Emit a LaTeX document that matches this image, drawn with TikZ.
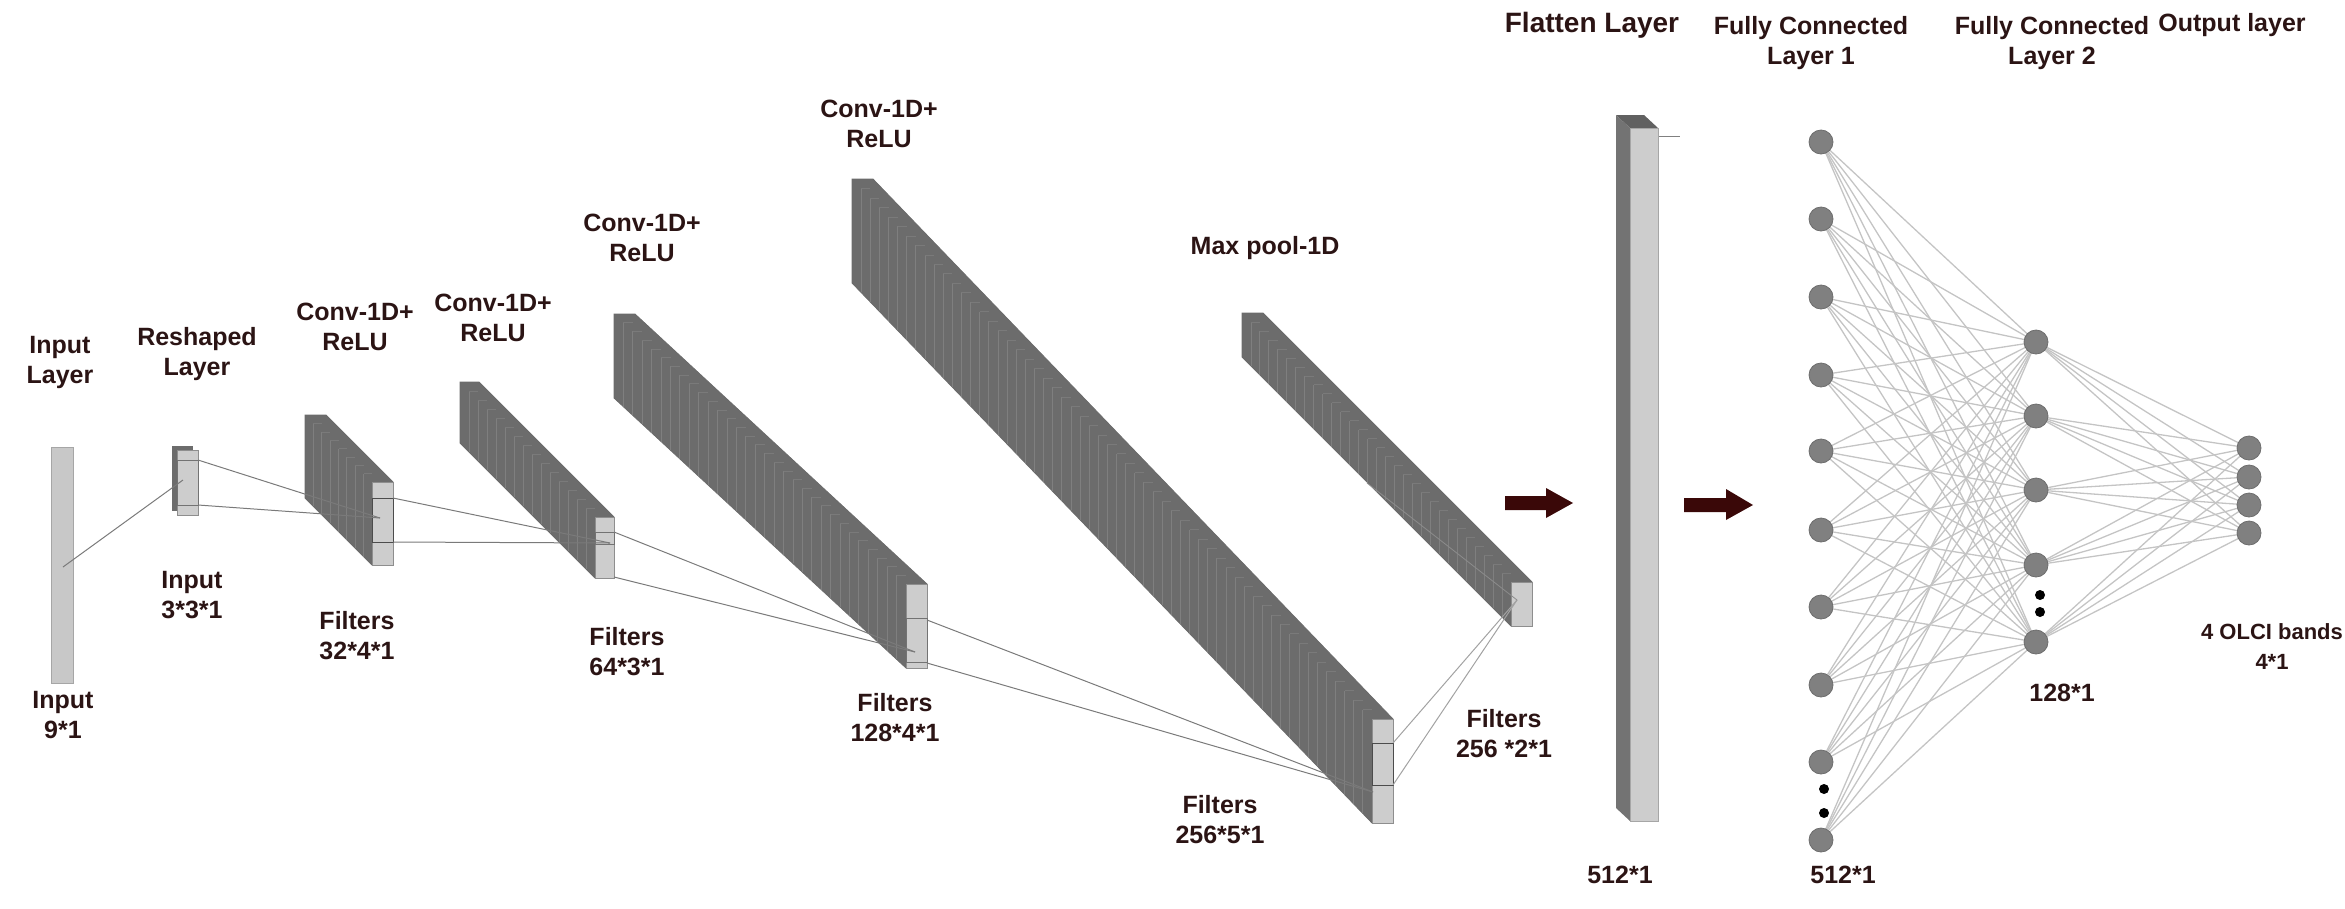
\documentclass[tikz,border=0pt]{standalone}
\usepackage{fontspec}
\setmainfont{Liberation Sans}
\pgfdeclarelayer{bg}
\pgfsetlayers{bg,main}
\definecolor{txt}{HTML}{2B1414}
\definecolor{slicec}{HTML}{6C6C6C}
\definecolor{sliceedge}{HTML}{7F7F7F}
\definecolor{facec}{HTML}{CDCDCD}
\definecolor{faceedge}{HTML}{8E8E8E}
\definecolor{conn}{HTML}{7A7A7A}
\definecolor{fcline}{HTML}{C4C4C4}
\definecolor{neuron}{HTML}{808080}
\definecolor{arrowc}{HTML}{3A0808}
\tikzset{
  lbl/.style={text=txt, font=\bfseries\fontsize{25}{30}\selectfont, align=center, inner sep=0pt},
  neuronnode/.style={circle, fill=neuron, draw=neuron!85!black, line width=0.8pt, minimum size=24pt, inner sep=0pt},
  dotnode/.style={circle, fill=black, minimum size=10pt, inner sep=0pt},
  fcedge/.style={draw=fcline, line width=1.3pt},
  convedge/.style={draw=conn, line width=1pt},
  frontface/.style={fill=facec, draw=faceedge, line width=1pt},
  windowbox/.style={draw=black!70, line width=1pt},
  fatarrow/.style={fill=arrowc, draw=none},
}
% x0,y0 (back top-left), x1,y1 (front top-left), h, w, m (= slices-1)
\newcommand\convblock[7]{%
  \fill[slicec, draw=black!58, line width=0.8pt]
    (#1,#2) -- ++(#6,0) -- (#3+#6,#4) -- ++(0,#5) -- (#3,#4+#5) -- (#1,#2+#5) -- cycle;
  \foreach \i in {1,...,#7}{%
    \pgfmathsetmacro\bx{#1+(#3-#1)/(#7+1)*\i}%
    \pgfmathsetmacro\by{#2+(#4-#2)/(#7+1)*\i}%
    \pgfmathsetmacro\dx{(#3-#1)/(#7+1)}%
    \draw[sliceedge, line width=0.9pt] (\bx,\by) -- ++(0,#5);
    \draw[black!52, line width=0.5pt] (\bx,\by) -- ++(\dx,0);
  }%
  \draw[frontface] (#3,#4) rectangle ++(#6,#5);
}
\begin{document}
\begin{tikzpicture}[x=1pt, y=-1pt]
\useasboundingbox (0,0) rectangle (2345,908);

% ---------- input layer ----------
\draw[fill=facec!110!white, draw=black!35, line width=1pt] (51,447) rectangle (73,683);
\coordinate (inA) at (63,567);

% ---------- reshaped layer ----------
\fill[slicec] (172,446) rectangle (193,511);
\draw[frontface] (177,450) rectangle (198,515);
\draw[windowbox, draw=black!55] (177,460) rectangle (198,505);
\coordinate (inB) at (183,480);
\coordinate (rsT) at (198,460);
\coordinate (rsB) at (198,505);

% ---------- conv blocks ----------
\convblock{305}{415}{372}{482}{83}{21}{7}
\convblock{460}{382}{595}{517}{61}{19}{14}
\convblock{614}{314}{906}{584}{84}{21}{30}
\convblock{852}{179}{1372}{719}{104}{21}{56}
\convblock{1242}{313}{1511}{582}{44}{21}{29}

% windows
\draw[windowbox] (372,498) rectangle (393,542);
\draw[windowbox, draw=black!55] (595,532) rectangle (614,544);
\draw[windowbox, draw=black!55] (906,618) rectangle (927,662);
\draw[windowbox] (1372,743) rectangle (1393,785);

\coordinate (c1T) at (393,498);  \coordinate (c1B) at (393,542);
\coordinate (c2T) at (614,532);  \coordinate (c2B) at (614,577);
\coordinate (c3T) at (927,620);  \coordinate (c3B) at (927,663);
\coordinate (c4T) at (1393,743); \coordinate (c4B) at (1393,785);
\coordinate (p1) at (380,518);
\coordinate (p2) at (610,543);
\coordinate (p3) at (915,652);
\coordinate (p4) at (1373,792);
\coordinate (p5) at (1517,600);
\coordinate (mpA) at (1367,483);

% connectors
\draw[convedge] (inA) -- (inB);
\draw[convedge] (rsT) -- (p1);  \draw[convedge] (rsB) -- (p1);
\draw[convedge] (c1T) -- (p2);  \draw[convedge] (c1B) -- (p2);
\draw[convedge] (c2T) -- (p3);  \draw[convedge] (c2B) -- (p3);
\draw[convedge] (c3T) -- (p4);  \draw[convedge] (c3B) -- (p4);
\draw[convedge, draw=conn!70] (c4T) -- (p5);  \draw[convedge, draw=conn!70] (c4B) -- (p5);
\draw[convedge, draw=black!45, line width=0.8pt] (p5) -- (mpA);

% ---------- arrows ----------
\fill[fatarrow] (1505,496) -- (1546,496) -- (1546,488) -- (1573,503) -- (1546,518) -- (1546,510) -- (1505,510) -- cycle;
\fill[fatarrow] (1684,498) -- (1726,498) -- (1726,489) -- (1753,505) -- (1726,520) -- (1726,512) -- (1684,512) -- cycle;

% ---------- flatten layer ----------
\fill[black!62] (1616,115) -- (1644,115) -- (1658,128) -- (1630,128) -- cycle;
\fill[black!55] (1616,115) -- (1630,128) -- (1630,821) -- (1616,808) -- cycle;
\draw[frontface, draw=black!35] (1630,128) rectangle (1658,821);
\coordinate (flT) at (1659,136);
\coordinate (flE) at (1680,136);
\draw[convedge, draw=black!50] (flT) -- (flE);

% ---------- fully connected network ----------
\foreach \y [count=\k] in {142,219,297,375,451,530,607,685,762,840}
  \node[neuronnode] (a\k) at (1821,\y) {};
\foreach \y [count=\k] in {342,416,490,565,642}
  \node[neuronnode] (b\k) at (2036,\y) {};
\foreach \y [count=\k] in {448,477,505,533}
  \node[neuronnode] (o\k) at (2249,\y) {};
\node[dotnode] (da1) at (1824,789) {};
\node[dotnode] (da2) at (1824,813) {};
\node[dotnode] (db1) at (2040,595) {};
\node[dotnode] (db2) at (2040,612) {};

\begin{pgfonlayer}{bg}
\foreach \i in {1,...,10}
  \foreach \j in {1,...,5}
    \draw[fcedge] (a\i.center) -- (b\j.center);
\foreach \i in {1,...,5}
  \foreach \j in {1,...,4}
    \draw[fcedge] (b\i.center) -- (o\j.center);
\end{pgfonlayer}

% ---------- labels ----------
\node[lbl] (tInput) at (60,362) {Input\\Layer};
\node[lbl] (tResh) at (197,354) {Reshaped\\Layer};
\node[lbl] (tC1) at (355,327) {Conv-1D+\\ReLU};
\node[lbl] (tC2) at (493,318) {Conv-1D+\\ReLU};
\node[lbl] (tC3) at (642,238) {Conv-1D+\\ReLU};
\node[lbl] (tC4) at (879,124) {Conv-1D+\\ReLU};
\node[lbl] (tMP) at (1265,248) {Max pool-1D};
\node[lbl, font=\bfseries\fontsize{28}{32}\selectfont] (tFl) at (1592,25) {Flatten Layer};
\node[lbl] (tFC1) at (1811,43) {Fully Connected\\Layer 1};
\node[lbl] (tFC2) at (2052,43) {Fully Connected\\Layer 2};
\node[lbl] (tOut) at (2232,25) {Output layer};

\node[lbl] (bIn) at (63,715) {Input\\9*1};
\node[lbl] (bRs) at (192,595) {Input\\3*3*1};
\node[lbl] (bC1) at (357,636) {Filters\\32*4*1};
\node[lbl] (bC2) at (627,652) {Filters\\64*3*1};
\node[lbl] (bC3) at (895,718) {Filters\\128*4*1};
\node[lbl] (bC4) at (1220,820) {Filters\\256*5*1};
\node[lbl] (bMP) at (1504,734) {Filters\\256 *2*1};
\node[lbl] (bFl) at (1620,875) {512*1};
\node[lbl] (bFC1) at (1843,875) {512*1};
\node[lbl] (bFC2) at (2062,693) {128*1};
\node[lbl, font=\bfseries\fontsize{22}{30}\selectfont] (bOut) at (2272,647) {4 OLCI bands\\4*1};
\end{tikzpicture}
\end{document}
